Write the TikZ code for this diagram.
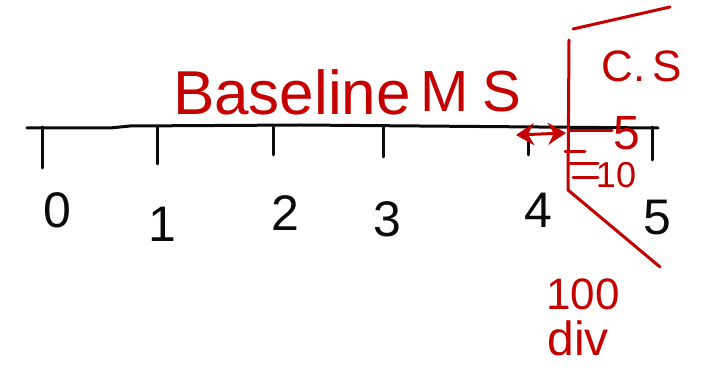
\documentclass[tikz,border=0pt]{standalone}
\usepackage{fontspec}
\setmainfont{Liberation Sans}
\usetikzlibrary{arrows.meta}
\definecolor{ink}{RGB}{10,10,10}
\definecolor{pen}{RGB}{196,0,0}
\tikzset{
  blk/.style={draw=ink, line width=3pt, line cap=round, line join=round},
  rd/.style={draw=pen, line width=3pt, line cap=round, line join=round},
  num/.style={text=ink, inner sep=0pt, font=\fontsize{50}{50}\selectfont},
  rtxt/.style={text=pen, inner sep=0pt, font=\fontsize{44}{44}\selectfont},
  dblarrow/.style={rd, {Stealth[length=18pt,width=22pt]}-{Stealth[length=18pt,width=22pt]}},
}
\begin{document}
\begin{tikzpicture}[x=1pt,y=-1pt]
\useasboundingbox (0,0) rectangle (707,371);
% main scale
\coordinate (L) at (27,128);
\coordinate (R) at (658,128);
\draw[blk] (L) -- (110,128) -- (130,126) -- (300,125) -- (R);
% ticks
\foreach \n/\x/\y in {t0/42/168, t1/157/164, t2/273/155, t3/383/157, t5/652/160} {
  \coordinate (\n a) at (\x,127);
  \coordinate (\n b) at (\x,\y);
  \draw[blk] (\n a) -- (\n b);
}
\coordinate (t4a) at (528,142);
\coordinate (t4b) at (528,155);
\draw[blk] (t4a) -- (t4b);
% labels
\node[num] (n0) at (57,210) {0};
\node[num] (n1) at (162,224) {1};
\node[num] (n2) at (285,213) {2};
\node[num] (n3) at (387,219) {3};
\node[num] (n4) at (538,210) {4};
\node[num] (n5) at (657,218) {5};
% circular scale
\coordinate (ctop1) at (573,29);
\coordinate (ctop2) at (670,7);
\draw[rd] (ctop1) -- (ctop2);
\coordinate (cv1) at (569,40);
\coordinate (cv2) at (568,190);
\coordinate (cd) at (660,267);
\draw[rd] (cv1) -- (cv2) -- (cd);
\coordinate (m5a) at (570,131);
\coordinate (m5b) at (612,131);
\draw[rd] (m5a) -- (m5b);
\coordinate (ma1) at (565,152); \coordinate (mb1) at (585,152);
\coordinate (ma2) at (570,164); \coordinate (mb2) at (598,164);
\coordinate (ma3) at (573,178); \coordinate (mb3) at (598,178);
\draw[rd] (ma1) -- (mb1);
\draw[rd] (ma2) -- (mb2);
\draw[rd] (ma3) -- (mb3);
% double arrow
\coordinate (da) at (516,135);
\coordinate (db) at (566,133);
\draw[dblarrow] (da) -- (db);
% red texts
\node[rtxt, font=\fontsize{62}{62}\selectfont] (bl) at (292,92) {Baseline};
\node[rtxt, anchor=west, font=\fontsize{58}{58}\selectfont] (ms) at (420,92) {M\hspace{14pt}S};
\node[rtxt] (cs) at (642,66) {C.\,S};
\node[rtxt, font=\fontsize{48}{48}\selectfont] (c5) at (627,133) {5};
\node[rtxt, font=\fontsize{36}{36}\selectfont] (c10) at (616,175) {10};
\node[rtxt] (hd) at (583,294) {100};
\node[rtxt, font=\fontsize{48}{48}\selectfont] (dv) at (578,338) {div};
\end{tikzpicture}
\end{document}
